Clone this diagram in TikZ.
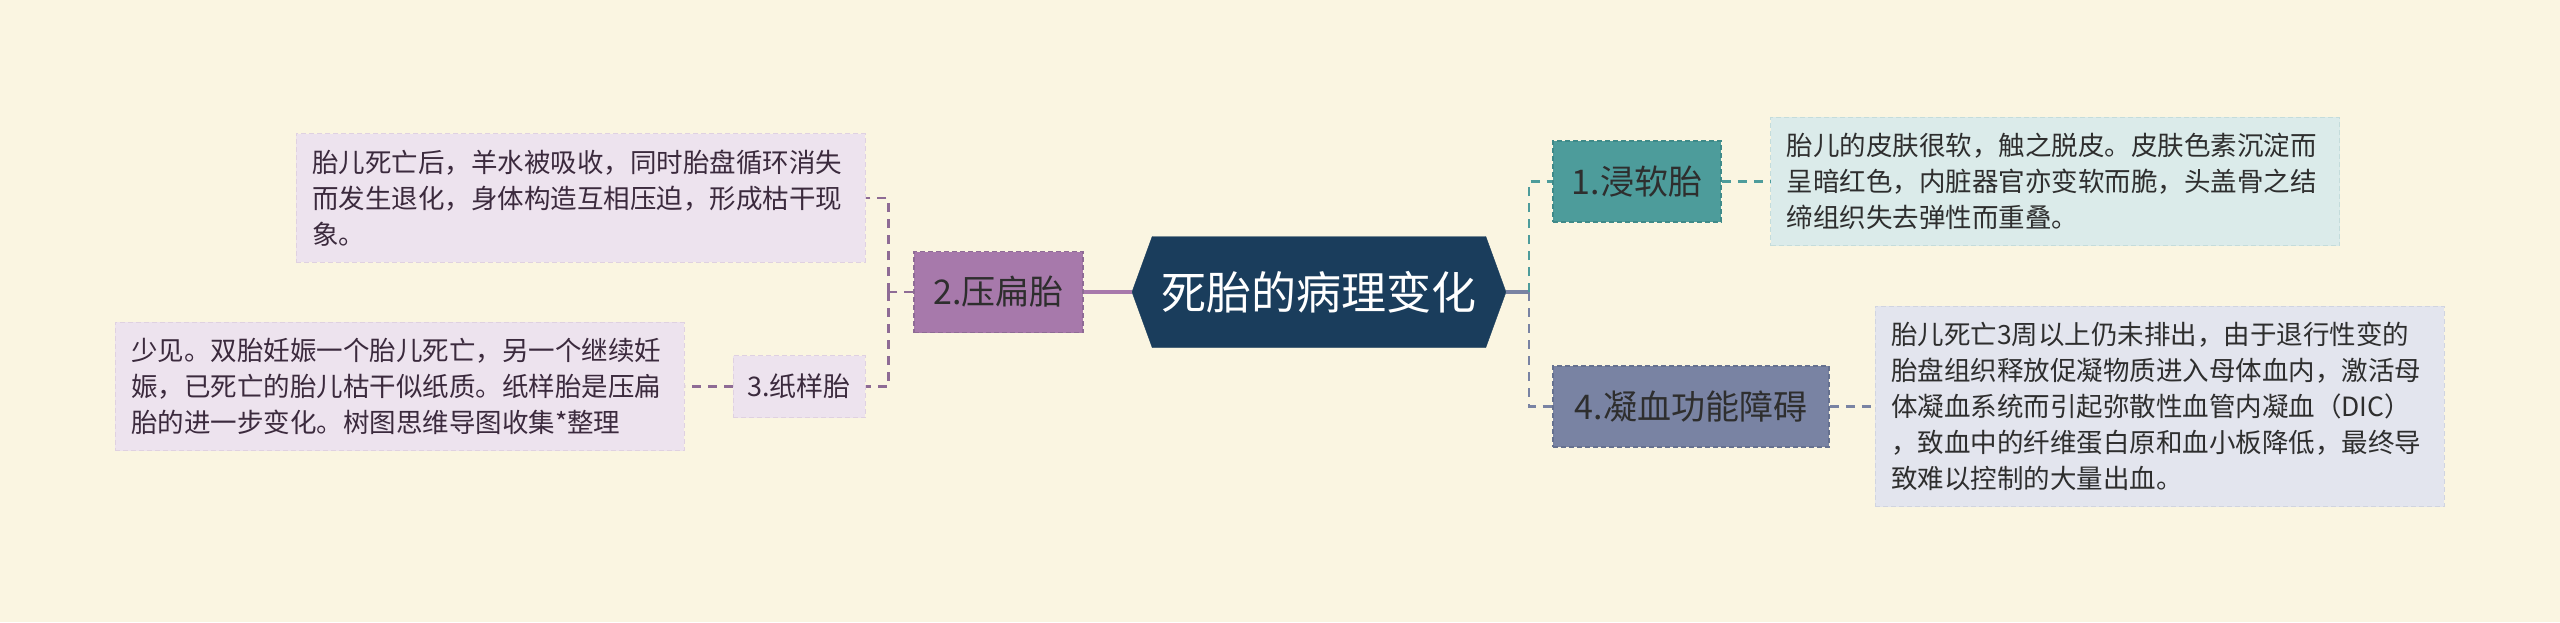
\documentclass[tikz,border=0pt]{standalone}
\usepackage{fontspec}
\setmainfont{Noto Sans CJK SC}
\usetikzlibrary{positioning,shapes.symbols}

\definecolor{bgcream}{HTML}{FAF5E1}
\definecolor{rootblue}{HTML}{1A3D5C}
\definecolor{pinkfill}{HTML}{A779AB}
\definecolor{pinkline}{HTML}{8E6B95}
\definecolor{pinknote}{HTML}{EDE3EE}
\definecolor{tealfill}{HTML}{4D9C9B}
\definecolor{tealline}{HTML}{3F8A89}
\definecolor{tealnote}{HTML}{DBEBEA}
\definecolor{slatefill}{HTML}{7983A3}
\definecolor{slateline}{HTML}{66718F}
\definecolor{slatenote}{HTML}{E3E5EE}
\definecolor{txtdark}{HTML}{2E2E2E}
\definecolor{txtpink}{HTML}{3B2A3D}

\begin{document}
\begin{tikzpicture}[x=1pt,y=1pt,node distance=100pt,on grid]
      \tikzset{rootnode/.style={signal,signal to=west and east,signal pointer angle=140,fill=rootblue,draw=rootblue,minimum width=374pt,minimum height=111pt,inner sep=0pt,text=white,font=\fontsize{45}{50}\selectfont}}
      \tikzset{topic/.style={rectangle,draw,dash pattern=on 5pt off 3pt,line width=1.5pt,minimum height=81pt,inner sep=0pt,text=txtdark,font=\fontsize{34}{40}\selectfont}}
      \tikzset{subtopic/.style={rectangle,draw,dash pattern=on 5pt off 3pt,line width=1pt,minimum height=62pt,minimum width=132pt,inner sep=0pt,font=\fontsize{27}{32}\selectfont}}
      \tikzset{note/.style={rectangle,draw,dash pattern=on 5pt off 3pt,line width=1pt,text width=537pt,inner sep=16pt,align=left,font=\fontsize{26.5}{36}\selectfont}}
      \tikzset{trunk/.style={line width=4pt}}
      \tikzset{twig/.style={line width=2.5pt,dash pattern=on 9pt off 7pt}}

      \fill[bgcream] (0,0) rectangle (2560,-622);
      \useasboundingbox (0,0) rectangle (2560,-622);

      \node[rootnode] (root) at (1319,-292) {死胎的病理变化};

      \node[topic,fill=pinkfill,draw=pinkline,minimum width=169pt] (yabian) [left = 320.5pt of root] {2.压扁胎};
      \node[subtopic,fill=pinknote,draw=pinknote!85!pinkline,text=txtpink] (zhiyang) [below left = 94.5pt and 199.5pt of yabian] {3.纸样胎};
      \node[note,fill=pinknote,draw=pinknote!85!pinkline,text=txtpink] (yabiantxt) [above left = 94pt and 418pt of yabian] {胎儿死亡后，羊水被吸收，同时胎盘循环消失\\而发生退化，身体构造互相压迫，形成枯干现\\象。};
      \node[note,fill=pinknote,draw=pinknote!85!pinkline,text=txtpink] (zhiyangtxt) [left = 399.5pt of zhiyang] {少见。双胎妊娠一个胎儿死亡，另一个继续妊\\娠，已死亡的胎儿枯干似纸质。纸样胎是压扁\\胎的进一步变化。树图思维导图收集*整理};

      \node[topic,fill=tealfill,draw=tealline,minimum width=168pt] (jinruan) [above right = 110.5pt and 318pt of root] {1.浸软胎};
      \node[topic,fill=slatefill,draw=slateline,minimum width=276pt] (ningxue) [below right = 114.5pt and 372pt of root] {4.凝血功能障碍};
      \node[note,fill=tealnote,draw=tealnote!85!tealline,text=txtdark] (jinruantxt) [right = 418pt of jinruan] {胎儿的皮肤很软，触之脱皮。皮肤色素沉淀而\\呈暗红色，内脏器官亦变软而脆，头盖骨之结\\缔组织失去弹性而重叠。};
      \node[note,fill=slatenote,draw=slatenote!85!slateline,text=txtdark] (ningxuetxt) [right = 468.5pt of ningxue] {胎儿死亡3周以上仍未排出，由于退行性变的\\胎盘组织释放促凝物质进入母体血内，激活母\\体凝血系统而引起弥散性血管内凝血（DIC）\\，致血中的纤维蛋白原和血小板降低，最终导\\致难以控制的大量出血。};

      \draw[trunk,pinkfill] (root.west) -- (yabian.east);
      \draw[twig,pinkline] (yabian.west) -- ++(-25,0) coordinate (hubL);
      \draw[twig,pinkline] (hubL) |- (yabiantxt.east);
      \draw[twig,pinkline] (hubL) |- (zhiyang.east);
      \draw[twig,pinkline] (zhiyang.west) -- (zhiyangtxt.east);

      \draw[trunk,slatefill] (root.east) -- ++(23,0) coordinate (hubR);
      \draw[twig,tealfill] (hubR) |- (jinruan.west);
      \draw[twig,slatefill] (hubR) |- (ningxue.west);
      \draw[twig,tealfill] (jinruan.east) -- (jinruantxt.west);
      \draw[twig,slatefill] (ningxue.east) -- (ningxuetxt.west);
\end{tikzpicture}
\end{document}
